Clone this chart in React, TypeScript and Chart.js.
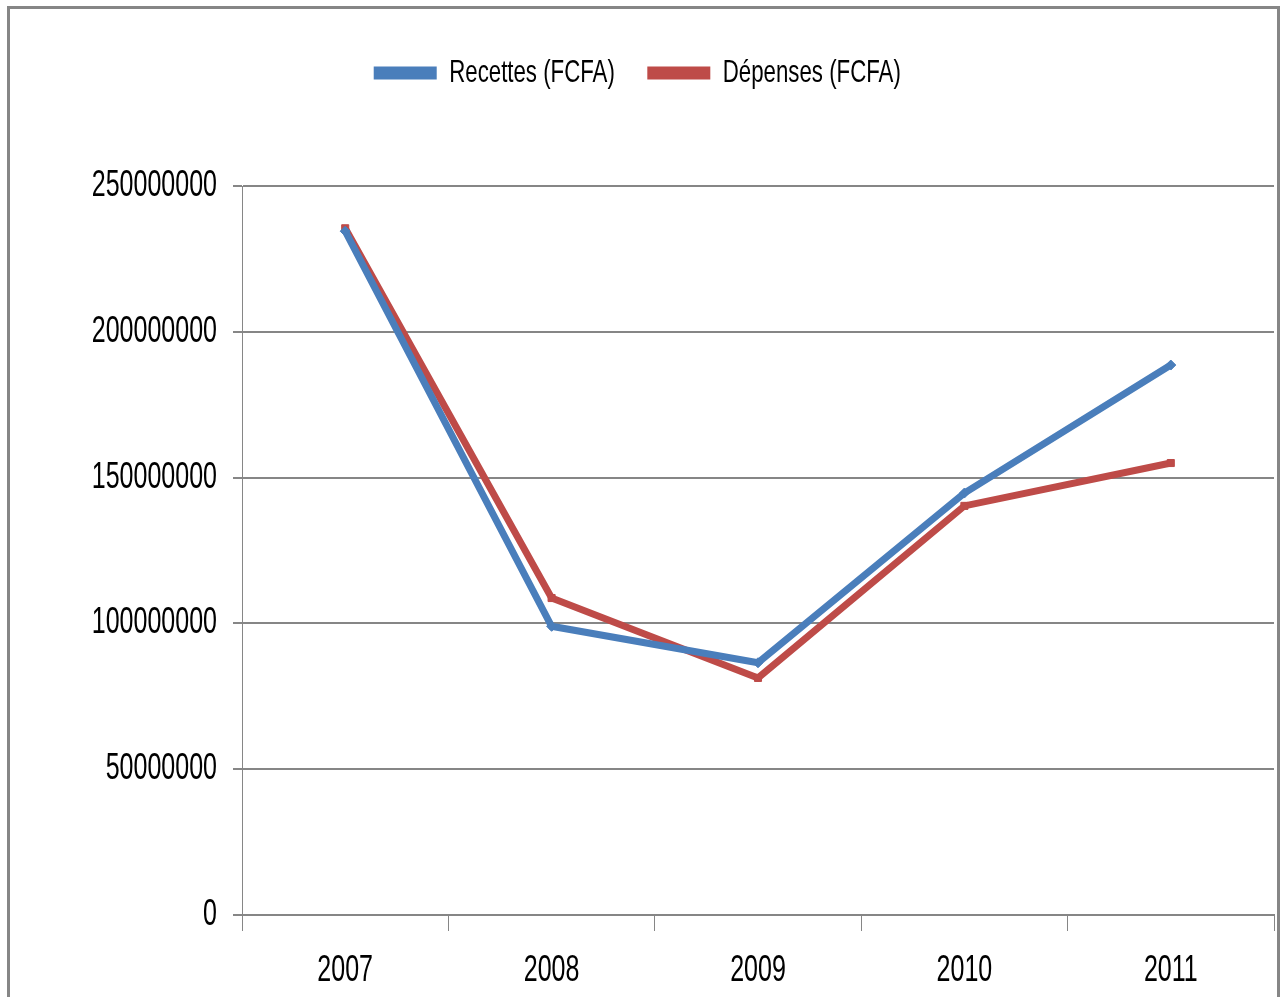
import React, { useEffect, useRef } from "react";
import { Chart, registerables } from "chart.js";

Chart.register(...registerables);

const categories = ["2007", "2008", "2009", "2010", "2011"];
const recettes = [234500000, 99000000, 86500000, 144700000, 188600000];
const depenses = [235500000, 108700000, 81300000, 140300000, 155000000];
const yTickLabels = ["0", "50000000", "100000000", "150000000", "200000000", "250000000"];
const seriesNames = ["Recettes (FCFA)", "Dépenses (FCFA)"];

const BLUE = "#4A7EBB";
const RED = "#BE4B48";
const GRID = "#868686";
const FONT = "'Liberation Sans', Arial, sans-serif";
const CONDENSE = 0.695;

// Draw all chart text horizontally condensed (like the reference's narrow face).
const condensePlugin = {
  id: "condense",
  beforeInit(chart: any) {
    const ctx = chart.ctx as CanvasRenderingContext2D;
    const origMeasure = ctx.measureText.bind(ctx);
    const origFill = ctx.fillText.bind(ctx);
    (ctx as any).measureText = (t: string) => {
      const m = origMeasure(t);
      return {
        width: m.width * CONDENSE,
        actualBoundingBoxAscent: m.actualBoundingBoxAscent,
        actualBoundingBoxDescent: m.actualBoundingBoxDescent,
        actualBoundingBoxLeft: m.actualBoundingBoxLeft * CONDENSE,
        actualBoundingBoxRight: m.actualBoundingBoxRight * CONDENSE,
        fontBoundingBoxAscent: m.fontBoundingBoxAscent,
        fontBoundingBoxDescent: m.fontBoundingBoxDescent,
      };
    };
    (ctx as any).fillText = (t: string, x: number, y: number, mw?: number) => {
      const w = origMeasure(t).width * CONDENSE;
      origFill(t, x, y, mw !== undefined ? Math.min(mw, w) : w);
    };
  },
};

export default function App() {
  const ref = useRef<HTMLCanvasElement | null>(null);

  useEffect(() => {
    document.body.style.overflow = "hidden";
    document.documentElement.style.overflow = "hidden";
    if (!ref.current) return;
    const chart = new Chart(ref.current, {
      type: "line",
      data: {
        labels: categories,
        datasets: [
          {
            label: seriesNames[0],
            data: recettes,
            borderColor: BLUE,
            backgroundColor: BLUE,
            borderWidth: 7,
            pointStyle: "rectRot",
            pointRadius: 5,
            pointBorderWidth: 1,
            tension: 0,
          },
          {
            label: seriesNames[1],
            data: depenses,
            borderColor: RED,
            backgroundColor: RED,
            borderWidth: 7,
            pointStyle: "rect",
            pointRadius: 5,
            pointBorderWidth: 1,
            tension: 0,
          },
        ],
      },
      plugins: [condensePlugin],
      options: {
        animation: false,
        responsive: false,
        maintainAspectRatio: false,
        layout: { padding: { top: 21, right: 2, left: 0, bottom: 0 } },
        plugins: {
          tooltip: { enabled: false },
          legend: {
            position: "top",
            weight: 1000,
            labels: {
              boxWidth: 56,
              boxHeight: 6,
              padding: 36,
              color: "#000",
              font: { family: FONT, size: 32 },
            },
          },
          title: {
            display: true,
            text: "",
            position: "top",
            weight: 500,
            font: { size: 1 },
            padding: { top: 85.8, bottom: 0 },
          },
        },
        scales: {
          x: {
            offset: true,
            grid: {
              offset: true,
              drawOnChartArea: false,
              drawTicks: true,
              tickLength: 16,
              color: GRID,
              lineWidth: 1,
            },
            border: { display: true, color: GRID, width: 2 },
            ticks: {
              color: "#000",
              padding: 18,
              font: { family: FONT, size: 36 },
            },
            afterFit: (scale: any) => {
              scale.height = 82;
            },
          },
          y: {
            min: 0,
            max: 250000000,
            grid: {
              color: GRID,
              lineWidth: 2,
              tickLength: 9,
            },
            border: { display: true, color: GRID, width: 1 },
            ticks: {
              stepSize: 50000000,
              color: "#000",
              padding: 16,
              font: { family: FONT, size: 36 },
              callback: (_v: any, i: number) => yTickLabels[i],
            },
            afterFit: (scale: any) => {
              scale.width = 242;
            },
          },
        },
      },
    });
    return () => chart.destroy();
  }, []);

  return (
    <div style={{ position: "fixed", left: 0, top: 0, width: 1280, height: 997, background: "#fff" }}>
      <canvas ref={ref} width={1280} height={997} style={{ position: "absolute", left: 0, top: 0, width: 1280, height: 997 }} />
      <div
        style={{
          position: "absolute",
          left: 7,
          top: 6,
          width: 1273,
          height: 1010,
          boxSizing: "border-box",
          border: `3px solid ${GRID}`,
          pointerEvents: "none",
        }}
      />
    </div>
  );
}
